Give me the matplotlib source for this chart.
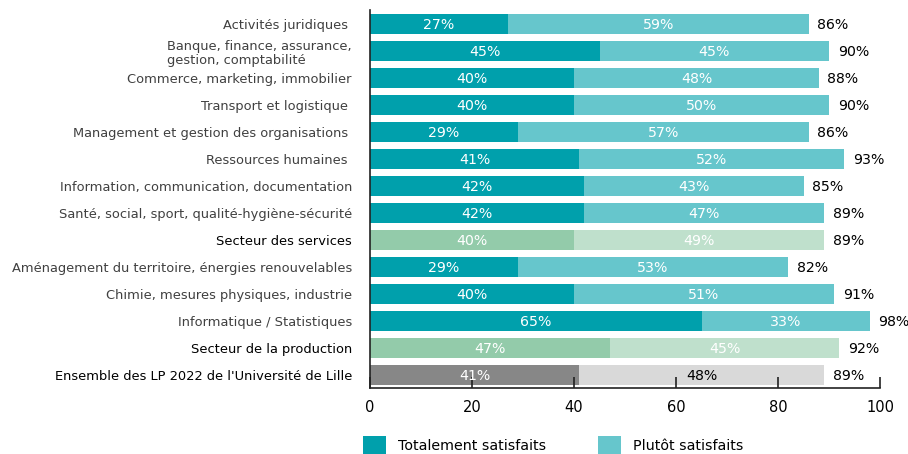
import matplotlib
matplotlib.use("Agg")
import matplotlib.pyplot as plt
from matplotlib.patches import Patch

categories = [
    "Activités juridiques ",
    "Banque, finance, assurance,\ngestion, comptabilité",
    "Commerce, marketing, immobilier",
    "Transport et logistique ",
    "Management et gestion des organisations ",
    "Ressources humaines ",
    "Information, communication, documentation",
    "Santé, social, sport, qualité-hygiène-sécurité",
    "Secteur des services",
    "Aménagement du territoire, énergies renouvelables",
    "Chimie, mesures physiques, industrie",
    "Informatique / Statistiques",
    "Secteur de la production",
    "Ensemble des LP 2022 de l'Université de Lille",
]
kinds = ["f", "f", "f", "f", "f", "f", "f", "f", "s", "f", "f", "f", "s", "t"]
totalement = [27, 45, 40, 40, 29, 41, 42, 42, 40, 29, 40, 65, 47, 41]
plutot = [59, 45, 48, 50, 57, 52, 43, 47, 49, 53, 51, 33, 45, 48]
totals = [86, 90, 88, 90, 86, 93, 85, 89, 89, 82, 91, 98, 92, 89]
xticks = [0, 20, 40, 60, 80, 100]
legend_labels = ["Totalement satisfaits", "Plutôt satisfaits"]

colors = {
    "f": ("#00A0AC", "#66C6CC"),
    "s": ("#93CBAA", "#BFE0CC"),
    "t": ("#878787", "#D9D9D9"),
}
label_colors = {"f": "#404040", "s": "#000000", "t": "#000000"}
light_text = {"f": "white", "s": "white", "t": "black"}

fig = plt.figure(figsize=(9.08, 4.54), dpi=100)
ax = fig.add_axes([370 / 908, 1 - 388 / 454, 510 / 908, 378 / 454])

ypos = list(range(len(categories)))
c1 = [colors[k][0] for k in kinds]
c2 = [colors[k][1] for k in kinds]
h = 0.74
ax.barh(ypos, totalement, height=h, color=c1, linewidth=0)
ax.barh(ypos, plutot, left=totalement, height=h, color=c2, linewidth=0)

for y, a, b, t, k in zip(ypos, totalement, plutot, totals, kinds):
    ax.text(a / 2, y + 0.03, f"{a}%", ha="center", va="center", color="white", fontsize=10.2)
    ax.text(a + b / 2, y + 0.03, f"{b}%", ha="center", va="center", color=light_text[k], fontsize=10.2)
    ax.text(a + b + 1.7, y + 0.03, f"{t}%", ha="left", va="center", color="black", fontsize=10.2)

ax.set_xlim(0, 100)
ax.set_ylim(13.48, -0.52)
ax.set_xticks(xticks)
ax.set_xticklabels([str(v) for v in xticks], fontsize=10.5, color="black")
ax.tick_params(axis="x", direction="in", length=8, width=1.2, color="#222222", pad=9)
ax.set_yticks(ypos)
ax.set_yticklabels(categories)
ax.tick_params(axis="y", length=0, pad=13)
for lab, k in zip(ax.get_yticklabels(), kinds):
    lab.set_fontsize(9.4)
    lab.set_color(label_colors[k])
    lab.set_multialignment("left")
    lab.set_linespacing(1.15)

for s in ["top", "right"]:
    ax.spines[s].set_visible(False)
ax.spines["left"].set_color("#222222")
ax.spines["left"].set_linewidth(1.2)
ax.spines["bottom"].set_color("#222222")
ax.spines["bottom"].set_linewidth(1.2)

handles = [Patch(facecolor=colors["f"][0]), Patch(facecolor=colors["f"][1])]
fig.legend(handles, legend_labels, loc="center left", bbox_to_anchor=(363 / 908, 1 - 445 / 454),
           ncol=2, frameon=False, fontsize=10.3, handlelength=1.6, handleheight=1.6,
           handletextpad=0.85, columnspacing=3.6, borderaxespad=0, borderpad=0)

fig.savefig("out.png", dpi=100)
